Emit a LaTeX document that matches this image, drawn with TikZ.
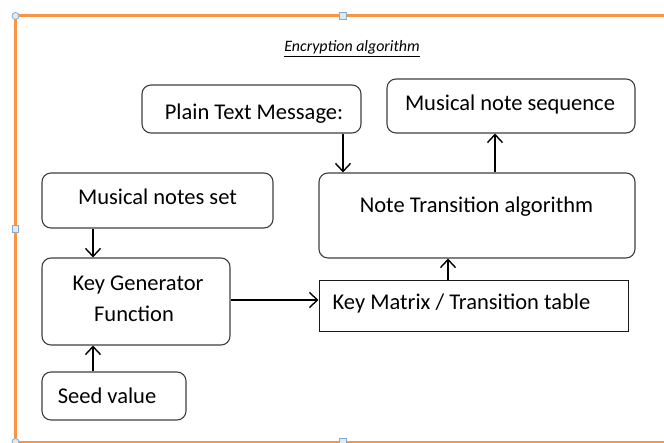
\documentclass[tikz,border=0pt]{standalone}
\usepackage{fontspec}
\setmainfont{Carlito}
\usetikzlibrary{arrows.meta}
\definecolor{frameorange}{HTML}{F79646}
\definecolor{boxline}{HTML}{3F3F3F}
\definecolor{handlefill}{HTML}{DDEBF7}
\definecolor{handleline}{HTML}{8EA9C1}

\begin{document}
\begin{tikzpicture}[x=1pt,y=-1pt,
  roundbox/.style={draw=boxline, line width=1.1pt, rounded corners=9pt, fill=white, inner sep=0pt},
  plainbox/.style={draw=black!90, line width=1pt, fill=white, inner sep=0pt},
  boxtext/.style={font=\fontsize{22.5}{31}\selectfont, inner sep=0pt, anchor=base},
  flow/.style={line width=1.4pt, -{Straight Barb[length=8pt,width=15pt,line width=1.4pt]}},
  roundhandle/.style={circle, draw=handleline, fill=handlefill, line width=0.8pt, minimum size=7pt, inner sep=0pt},
  squarehandle/.style={rectangle, draw=handleline, fill=handlefill, line width=0.8pt, minimum size=6.5pt, inner sep=0pt}
]
\clip (0,0) rectangle (664,443);
\fill[white] (0,0) rectangle (664,443);

% outer frame
\draw[frameorange, line width=3pt] (700,16) -- (15.5,16) -- (15.5,442) -- (700,442);

% title
\node[inner sep=0pt, anchor=base, font=\fontsize{15.9}{18}\selectfont] (title) at (352,52)
  {\underline{\textit{Encryption algorithm}}};

% boxes
\node[roundbox, minimum width=219pt, minimum height=48pt] (plain) at (251.5,109) {};
\node[roundbox, minimum width=248pt, minimum height=54pt] (mns) at (511,106) {};
\node[roundbox, minimum width=316pt, minimum height=85pt] (nta) at (477,215.5) {};
\node[roundbox, minimum width=231pt, minimum height=55pt] (set) at (157.5,200.5) {};
\node[roundbox, minimum width=188pt, minimum height=87pt] (keygen) at (136,301.5) {};
\node[roundbox, minimum width=144pt, minimum height=48pt] (seed) at (114,396) {};
\node[plainbox, minimum width=309pt, minimum height=51pt] (matrix) at (473.5,306.5) {};

% box texts
\node[boxtext] (plainT) at (254,120) {Plain Text Message:};
\node[boxtext] (mnsT) at (510,111) {Musical note sequence};
\node[boxtext] (ntaT) at (476.5,213) {Note Transition algorithm};
\node[boxtext] (setT) at (157.5,205) {Musical notes set};
\node[boxtext] (kgT1) at (138,291) {Key Generator};
\node[boxtext] (kgT2) at (134,322) {Function};
\node[boxtext] (seedT) at (107,403) {Seed value};
\node[boxtext] (matrixT) at (461.5,310) {Key Matrix / Transition table};

% connector guides
\coordinate (xa) at (343,0);
\coordinate (xb) at (495,0);
\coordinate (xc) at (448,0);
\coordinate (xd) at (93,0);
\coordinate (ya) at (0,300);

% connectors
\draw[flow] (plain.south -| xa) -- (nta.north -| xa);
\draw[flow] (nta.north -| xb) -- (mns.south -| xb);
\draw[flow] (matrix.north -| xc) -- (nta.south -| xc);
\draw[flow] (set.south -| xd) -- (keygen.north -| xd);
\draw[flow] (seed.north -| xd) -- (keygen.south -| xd);
\draw[flow] (keygen.east |- ya) -- (matrix.west |- ya);

% selection handles on the frame
\node[roundhandle] (h1) at (15.5,16) {};
\node[squarehandle] (h2) at (343,16) {};
\node[squarehandle] (h3) at (15.5,229) {};
\node[roundhandle] (h4) at (15.5,442) {};
\node[squarehandle] (h5) at (343,442) {};
\end{tikzpicture}
\end{document}
